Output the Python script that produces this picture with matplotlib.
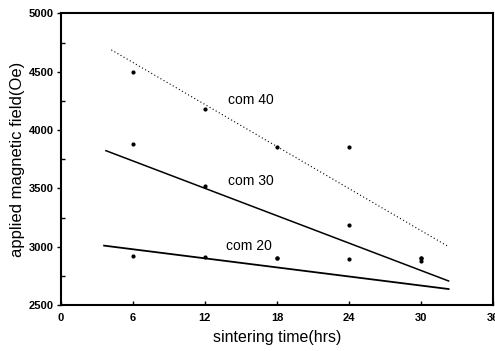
import numpy as np
import matplotlib
matplotlib.use('Agg')
import matplotlib.pyplot as plt
from matplotlib.ticker import MultipleLocator

plt.rcParams['font.family'] = ['Liberation Sans', 'DejaVu Sans']

# sintering time (hrs)
times = [6, 12, 18, 24, 30]

# measured applied magnetic field (Oe)
com40 = [4500, 4180, 3858, 3853, 2901]
com30 = [3878, 3523, 2901, 3186, 2875]
com20 = [2918, 2912, 2901, 2892, 2900]

# straight lines drawn through each set (start/end)
fit_x40 = [4.2, 32.2]
fit_y40 = [4687, 3006]
fit_x30 = [3.75, 32.3]
fit_y30 = [3823, 2706]
fit_x20 = [3.6, 32.3]
fit_y20 = [3009, 2637]

labels = ['com 40', 'com 30', 'com 20']
label_x = [13.9, 13.9, 13.75]
label_y = [4258, 3566, 3009]

xticks = [0, 6, 12, 18, 24, 30, 36]
yticks = [2500, 3000, 3500, 4000, 4500, 5000]


fig = plt.figure(figsize=(4.95, 3.51), dpi=100)
ax = fig.add_axes([0.123, 0.131, 0.873, 0.831])

for ys in (com40, com30, com20):
	ax.plot(times, ys, 'o', ms=2.0, color='black', mec='black')

ax.plot(fit_x40, fit_y40, color='black', lw=0.8, linestyle=(0, (1, 2.2)))
ax.plot(fit_x30, fit_y30, color='black', lw=1.1)
ax.plot(fit_x20, fit_y20, color='black', lw=1.3)

for lab, lx, ly in zip(labels, label_x, label_y):
	ax.text(lx, ly, lab, fontsize=10, ha='left', va='center')

ax.set_xlim(0, 36)
ax.set_ylim(2500, 5000)
ax.set_xticks(xticks)
ax.set_yticks(yticks)
ax.yaxis.set_minor_locator(MultipleLocator(250))
ax.tick_params(axis='x', direction='in', length=3, width=1, labelsize=8, pad=6)
ax.tick_params(axis='y', which='major', direction='out', length=3, width=1, labelsize=8, pad=2)
ax.tick_params(axis='y', which='minor', direction='in', length=3, width=1)
for lab in ax.get_xticklabels() + ax.get_yticklabels():
	lab.set_fontweight('bold')

for s in ax.spines.values():
	s.set_linewidth(1.5)

ax.set_xlabel('sintering time(hrs)', fontsize=11.5, labelpad=5)
ax.set_ylabel('applied magnetic field(Oe)', fontsize=12, labelpad=3)

fig.savefig('out.png', dpi=100)
